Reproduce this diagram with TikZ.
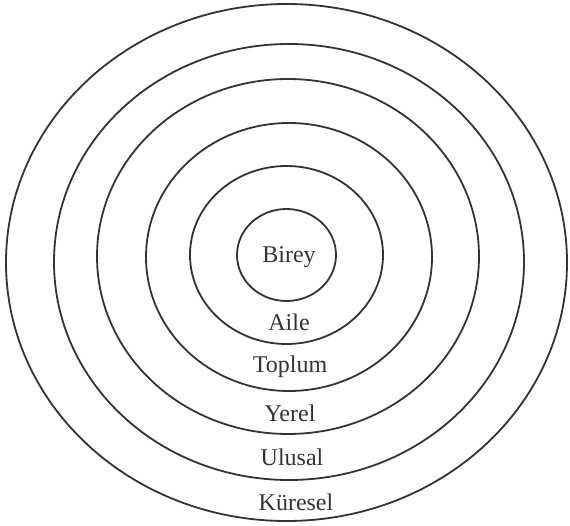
\documentclass[tikz,border=0pt]{standalone}
\usepackage{fontspec}
\setmainfont{Liberation Serif}
\begin{document}
\begin{tikzpicture}[x=1pt,y=-1pt,
  ring/.style={draw=black!80,line width=1.8pt},
  lbl/.style={anchor=base,inner sep=0pt,font=\fontsize{24}{28}\selectfont,text=black!80}]
\useasboundingbox (0,0) rectangle (570,526);
\draw[ring] (286.5,262.5) ellipse [x radius=280.5,y radius=258.5];
\draw[ring] (289,262) ellipse [x radius=235,y radius=218];
\draw[ring] (288,256.5) ellipse [x radius=191,y radius=177.5];
\draw[ring] (289,257) ellipse [x radius=143,y radius=134];
\draw[ring] (286.5,255) ellipse [x radius=96.5,y radius=89];
\draw[ring] (286.5,255) ellipse [x radius=49.5,y radius=46];
\node[lbl] (birey) at (289,263) {Birey};
\node[lbl] (aile) at (289,331) {Aile};
\node[lbl] (toplum) at (290,372) {Toplum};
\node[lbl] (yerel) at (290,421) {Yerel};
\node[lbl] (ulusal) at (292,465) {Ulusal};
\node[lbl] (kuresel) at (296,510) {Küresel};
\end{tikzpicture}
\end{document}
